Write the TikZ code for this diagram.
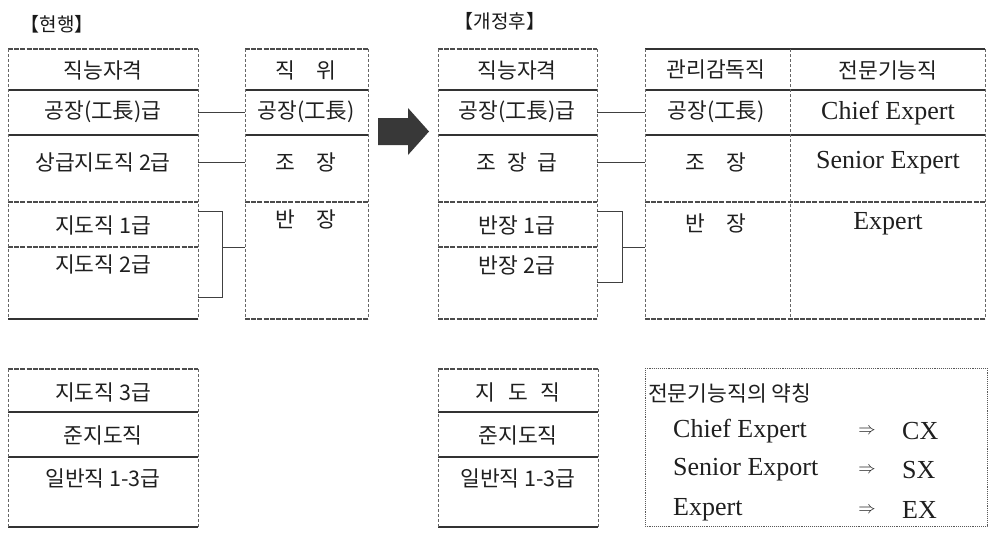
\documentclass[tikz,border=0pt]{standalone}
\usepackage{fontspec}
\setmainfont{Liberation Serif}
\newfontfamily\kr{Noto Sans CJK KR}
\begin{document}
\begin{tikzpicture}[x=1pt,y=-1pt,
  ktext/.style={font=\kr\fontsize{21.5}{24}\selectfont, text=black!88, inner sep=0pt, anchor=center},
  ltext/.style={font=\fontsize{26}{29}\selectfont, text=black!88, inner sep=0pt, anchor=center},
  atext/.style={font=\fontsize{17}{19}\selectfont, text=black!88, inner sep=0pt, anchor=center},
  ttext/.style={font=\kr\fontsize{19}{21}\selectfont, text=black!90, inner sep=0pt},
  hsolid/.style={line width=1.3pt, draw=black!80},
  hdash/.style={line width=1.1pt, draw=black!70, dash pattern=on 5pt off 1.2pt},
  vdash/.style={line width=0.7pt, draw=black!60, dash pattern=on 3pt off 2pt},
  conn/.style={line width=0.9pt, draw=black!75},
  dotbox/.style={line width=0.9pt, draw=black!65, densely dotted}]
\useasboundingbox (0,0) rectangle (994,544);
\fill[white] (0,0) rectangle (994,544);

% titles
\node[ttext] (T1) at (57,24) {【현행】};
\node[ttext] (T2) at (500,21) {【개정후】};

% ---------- left top table (직능자격) ----------
\coordinate (LTa) at (8,49);  \coordinate (LTb) at (198,319);
\draw[hdash] (8,49) -- (198,49);
\draw[hsolid] (8,90) -- (198,90);
\draw[hsolid] (8,135) -- (198,135);
\draw[hdash] (8,202) -- (198,202);
\draw[hdash] (8,247) -- (198,247);
\draw[hsolid] (8,319) -- (198,319);
\draw[vdash] (8,49) -- (8,319);
\draw[vdash] (198,49) -- (198,319);
\node[ktext] (L0) at (103,70) {직능자격};
\node[ktext] (L1) at (103,112) {공장(工長)급};
\node[ktext] (L2) at (103,162) {상급지도직 2급};
\node[ktext] (L3) at (103,225) {지도직 1급};
\node[ktext] (L4) at (103,264) {지도직 2급};

% ---------- left position box (직위) ----------
\coordinate (PTa) at (245,49); \coordinate (PTb) at (368,319);
\draw[hdash] (245,49) -- (368,49);
\draw[hsolid] (245,90) -- (368,90);
\draw[hsolid] (245,135) -- (368,135);
\draw[hdash] (245,202) -- (368,202);
\draw[vdash] (245,49) -- (245,319);
\draw[vdash] (368,49) -- (368,319);
\draw[hdash] (245,319) -- (368,319);
\node[ktext] (P0) at (306,70) {직\hspace{1em}위};
\node[ktext] (P1) at (306,112) {공장(工長)};
\node[ktext] (P2) at (306,162) {조\hspace{1em}장};
\node[ktext] (P3) at (306,219) {반\hspace{1em}장};

% connectors left
\draw[conn] (L1 -| LTb) -- (L1 -| PTa);
\draw[conn] (L2 -| LTb) -- (L2 -| PTa);
\coordinate (LBt) at (222,211); \coordinate (LBb) at (222,297); \coordinate (LBm) at (222,247);
\draw[conn] (LBt -| LTb) -- (LBt) -- (LBb) -- (LBb -| LTb);
\draw[conn] (LBm) -- (LBm -| PTa);

% big arrow
\fill[black!78] (378,118) -- (408,118) -- (408,108) -- (429,131.5) -- (408,155) -- (408,145) -- (378,145) -- cycle;

% ---------- right top table (직능자격) ----------
\coordinate (RTa) at (438,49); \coordinate (RTb) at (597,319);
\draw[hdash] (438,49) -- (597,49);
\draw[hsolid] (438,90) -- (597,90);
\draw[hsolid] (438,135) -- (597,135);
\draw[hdash] (438,202) -- (597,202);
\draw[hdash] (438,247) -- (597,247);
\draw[hdash] (438,319) -- (597,319);
\draw[vdash] (438,49) -- (438,319);
\draw[vdash] (597,49) -- (597,319);
\node[ktext] (R0) at (517,70) {직능자격};
\node[ktext] (R1) at (517,112) {공장(工長)급};
\node[ktext] (R2) at (517,162) {조\hspace{0.5em}장\hspace{0.5em}급};
\node[ktext] (R3) at (517,225) {반장 1급};
\node[ktext] (R4) at (517,265) {반장 2급};

% ---------- right table (관리감독직 / 전문기능직) ----------
\coordinate (STa) at (645,49); \coordinate (STb) at (985,319);
\draw[hsolid] (645,49) -- (985,49);
\draw[hsolid] (645,90) -- (985,90);
\draw[hsolid] (645,135) -- (985,135);
\draw[hdash] (645,202) -- (985,202);
\draw[hdash] (645,319) -- (985,319);
\draw[vdash] (645,49) -- (645,319);
\draw[vdash] (790,49) -- (790,319);
\draw[vdash] (985,49) -- (985,319);
\node[ktext] (S0) at (716,70) {관리감독직};
\node[ktext] (E0) at (888,70) {전문기능직};
\node[ktext] (S1) at (716,112) {공장(工長)};
\node[ltext] (E1) at (888,113) {Chief Expert};
\node[ktext] (S2) at (716,162) {조\hspace{1em}장};
\node[ltext] (E2) at (888,163) {Senior Expert};
\node[ktext] (S3) at (716,223) {반\hspace{1em}장};
\node[ltext] (E3) at (888,224) {Expert};

% connectors right
\draw[conn] (R1 -| RTb) -- (R1 -| STa);
\draw[conn] (R2 -| RTb) -- (R2 -| STa);
\coordinate (RBt) at (622,211); \coordinate (RBb) at (622,282); \coordinate (RBm) at (622,247);
\draw[conn] (RBt -| RTb) -- (RBt) -- (RBb) -- (RBb -| RTb);
\draw[conn] (RBm) -- (RBm -| STa);

% ---------- bottom left table ----------
\draw[hdash] (8,369) -- (198,369);
\draw[hsolid] (8,412) -- (198,412);
\draw[hsolid] (8,457) -- (198,457);
\draw[hsolid] (8,527) -- (198,527);
\draw[vdash] (8,369) -- (8,527);
\draw[vdash] (198,369) -- (198,527);
\node[ktext] (B0) at (103,392) {지도직 3급};
\node[ktext] (B1) at (103,435) {준지도직};
\node[ktext] (B2) at (103,478) {일반직 1-3급};

% ---------- bottom right table ----------
\draw[hdash] (438,369) -- (598,369);
\draw[hsolid] (438,412) -- (598,412);
\draw[hsolid] (438,457) -- (598,457);
\draw[hsolid] (438,527) -- (598,527);
\draw[vdash] (438,369) -- (438,527);
\draw[vdash] (598,369) -- (598,527);
\node[ktext] (C0) at (518,392) {지\hspace{0.6em}도\hspace{0.6em}직};
\node[ktext] (C1) at (518,435) {준지도직};
\node[ktext] (C2) at (518,478) {일반직 1-3급};

% ---------- legend ----------
\draw[dotbox] (645,368) rectangle (987,526);
\node[ktext, anchor=west] (G0) at (648,393) {전문기능직의 약칭};
\node[ltext, anchor=west] (G1) at (673,431) {Chief Expert};
\node[ltext, anchor=west] (G2) at (673,470) {Senior Export};
\node[ltext, anchor=west] (G3) at (673,510) {Expert};
\node[atext] (A1) at (867,431) {$\Rightarrow$};
\node[atext] (A2) at (867,470) {$\Rightarrow$};
\node[atext] (A3) at (867,510) {$\Rightarrow$};
\node[ltext, anchor=west] (X1) at (902,431) {CX};
\node[ltext, anchor=west] (X2) at (902,470) {SX};
\node[ltext, anchor=west] (X3) at (902,510) {EX};
\end{tikzpicture}
\end{document}
